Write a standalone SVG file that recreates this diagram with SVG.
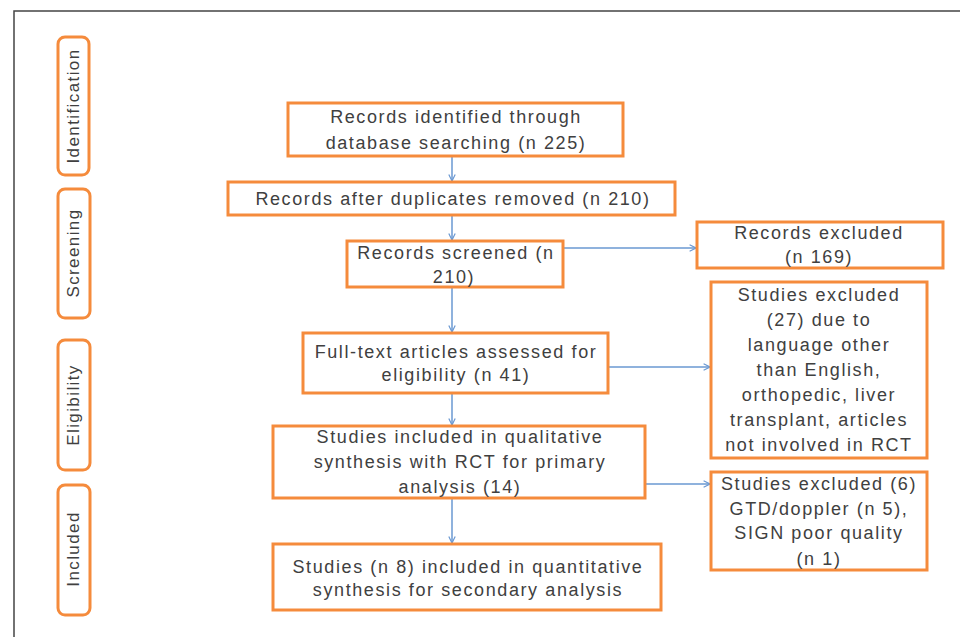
<svg xmlns="http://www.w3.org/2000/svg" width="960" height="637" viewBox="0 0 960 637">
<defs>
<style>
.box{fill:#fff;stroke:#F58B3C;stroke-width:3}
.side{fill:#fff;stroke:#F58B3C;stroke-width:3}
.t{font-family:"Liberation Sans",Arial,sans-serif;font-size:18px;letter-spacing:1.6px;fill:#404040;text-anchor:middle}
.s{font-family:"Liberation Sans",Arial,sans-serif;font-size:17px;letter-spacing:1.4px;fill:#404040;text-anchor:middle}
.c{stroke:#6A98D2;stroke-width:1.5;fill:none}
</style>
<marker id="ah" viewBox="0 0 10 10" refX="9" refY="5" markerWidth="8" markerHeight="8" markerUnits="userSpaceOnUse" orient="auto">
<path d="M1,1 L9,5 L1,9" fill="none" stroke="#6A98D2" stroke-width="1.5"/>
</marker>
</defs>
<rect width="960" height="637" fill="#fff"/>
<path d="M14,640 L14,11 L962,11" fill="none" stroke="#444" stroke-width="1.5"/>

<g id="side-identification"><rect class="side" x="58" y="37" width="31" height="138" rx="7"/><text class="s" transform="translate(79,106) rotate(-90)">Identification</text></g>
<g id="side-screening"><rect class="side" x="58" y="189" width="32" height="129" rx="7"/><text class="s" transform="translate(79,253) rotate(-90)">Screening</text></g>
<g id="side-eligibility"><rect class="side" x="58" y="340" width="32" height="130" rx="7"/><text class="s" transform="translate(79,405) rotate(-90)">Eligibility</text></g>
<g id="side-included"><rect class="side" x="58" y="485" width="32" height="130" rx="7"/><text class="s" transform="translate(79,549) rotate(-90)">Included</text></g>

<g id="connectors">
<line class="c" x1="452" y1="157" x2="452" y2="181" marker-end="url(#ah)"/>
<line class="c" x1="452" y1="216" x2="452" y2="240" marker-end="url(#ah)"/>
<line class="c" x1="452" y1="288" x2="452" y2="332" marker-end="url(#ah)"/>
<line class="c" x1="452" y1="394" x2="452" y2="425" marker-end="url(#ah)"/>
<line class="c" x1="452" y1="499" x2="452" y2="543" marker-end="url(#ah)"/>
<line class="c" x1="564" y1="248" x2="696" y2="248" marker-end="url(#ah)"/>
<line class="c" x1="609" y1="367" x2="710" y2="367" marker-end="url(#ah)"/>
<line class="c" x1="646" y1="484" x2="710" y2="484" marker-end="url(#ah)"/>
</g>

<g id="n1"><rect class="box" x="288" y="103" width="335" height="53"/><text class="t" x="456" y="123">Records identified through</text><text class="t" x="456" y="149">database searching (n 225)</text></g>
<g id="n2"><rect class="box" x="228" y="182" width="447" height="33"/><text class="t" x="453" y="205">Records after duplicates removed (n 210)</text></g>
<g id="n3"><rect class="box" x="347" y="241" width="216" height="46"/><text class="t" x="456" y="259">Records screened (n</text><text class="t" x="454" y="283">210)</text></g>
<g id="n4"><rect class="box" x="303" y="333" width="305" height="60"/><text class="t" x="456" y="358">Full-text articles assessed for</text><text class="t" x="456" y="381">eligibility (n 41)</text></g>
<g id="n5"><rect class="box" x="273" y="426" width="372" height="72"/><text class="t" x="460" y="443">Studies included in qualitative</text><text class="t" x="460" y="468">synthesis with RCT for primary</text><text class="t" x="460" y="493">analysis (14)</text></g>
<g id="n6"><rect class="box" x="273" y="544" width="388" height="66"/><text class="t" x="468" y="573">Studies (n 8) included in quantitative</text><text class="t" x="468" y="596">synthesis for secondary analysis</text></g>
<g id="n7"><rect class="box" x="697" y="222" width="246" height="46"/><text class="t" x="819" y="239">Records excluded</text><text class="t" x="819" y="263">(n 169)</text></g>
<g id="n8"><rect class="box" x="711" y="282" width="216" height="176"/><text class="t" x="819" y="301">Studies excluded</text><text class="t" x="819" y="326">(27) due to</text><text class="t" x="819" y="351">language other</text><text class="t" x="819" y="376">than English,</text><text class="t" x="819" y="401">orthopedic, liver</text><text class="t" x="819" y="426">transplant, articles</text><text class="t" x="819" y="451">not involved in RCT</text></g>
<g id="n9"><rect class="box" x="711" y="472" width="216" height="98"/><text class="t" x="819" y="490">Studies excluded (6)</text><text class="t" x="819" y="515">GTD/doppler (n 5),</text><text class="t" x="819" y="539">SIGN poor quality</text><text class="t" x="819" y="565">(n 1)</text></g>
</svg>
